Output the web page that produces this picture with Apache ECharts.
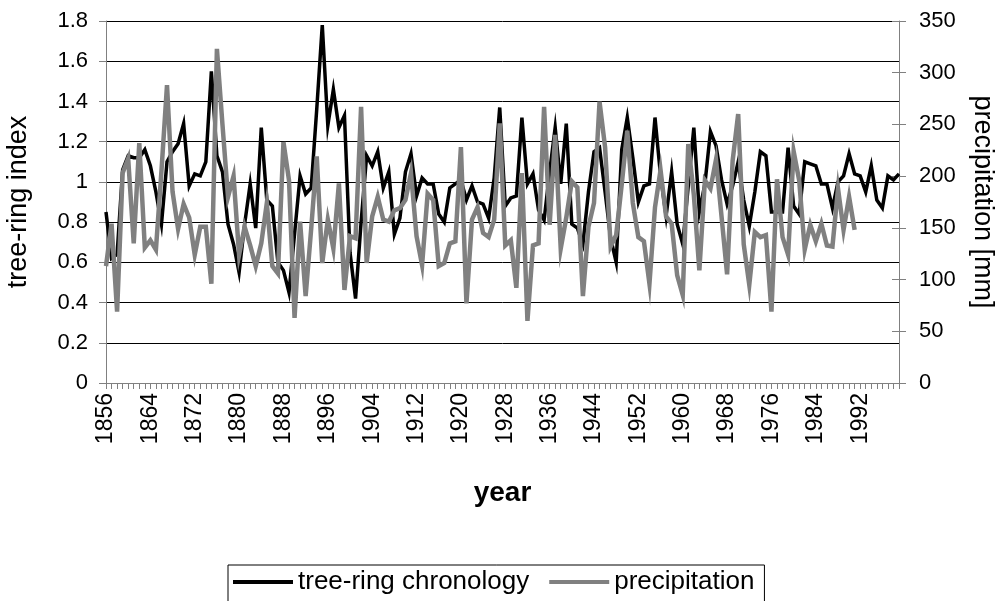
<!DOCTYPE html>
<html>
<head>
<meta charset="utf-8">
<script src="https://cdn.jsdelivr.net/npm/echarts@6/dist/echarts.min.js"></script>
<style>
html,body{margin:0;padding:0;background:#fff;}
#chart{width:998px;height:601px;}
</style>
</head>
<body>
<div id="chart"></div>
<script>
var firstYear = 1856;
var lastYear = 1999;
var years = [];
for (var y = firstYear; y <= lastYear; y++) years.push(String(y));

var treeRing = [
  0.85, 0.62, 0.64, 1.06, 1.13, 1.12, 1.12, 1.16, 1.08, 0.95,
  0.79, 1.10, 1.15, 1.19, 1.29, 0.98, 1.04, 1.03, 1.10, 1.55,
  1.13, 1.05, 0.79, 0.69, 0.55, 0.79, 0.99, 0.77, 1.27, 0.91,
  0.88, 0.60, 0.56, 0.45, 0.74, 1.03, 0.94, 0.97, 1.36, 1.78,
  1.28, 1.46, 1.27, 1.33, 0.65, 0.42, 0.80, 1.13, 1.08, 1.15,
  0.97, 1.05, 0.74, 0.82, 1.05, 1.14, 0.93, 1.02, 0.99, 0.99,
  0.84, 0.80, 0.97, 0.99, 1.01, 0.91, 0.98, 0.90, 0.89, 0.82,
  1.02, 1.37, 0.88, 0.92, 0.93, 1.32, 0.99, 1.04, 0.86, 0.81,
  1.05, 1.27, 0.99, 1.29, 0.79, 0.77, 0.69, 0.95, 1.15, 1.17,
  0.95, 0.72, 0.60, 1.16, 1.32, 1.12, 0.90, 0.98, 0.99, 1.32,
  1.03, 0.83, 1.05, 0.79, 0.69, 0.98, 1.27, 0.85, 0.99, 1.25,
  1.18, 1.01, 0.89, 0.98, 1.10, 0.91, 0.78, 0.95, 1.15, 1.13,
  0.85, 0.85, 0.85, 1.17, 0.88, 0.84, 1.10, 1.09, 1.08, 0.99,
  0.99, 0.87, 1.00, 1.03, 1.14, 1.04, 1.03, 0.95, 1.08, 0.91,
  0.87, 1.03, 1.01, 1.04
];

var precipitation = [
  113, 154, 69, 203, 217, 135, 232, 131, 138, 129,
  205, 288, 185, 149, 173, 160, 124, 151, 151, 96,
  323, 250, 180, 200, 124, 151, 133, 113, 135, 174,
  113, 106, 233, 196, 63, 156, 84, 149, 219, 116,
  158, 130, 193, 90, 142, 140, 267, 116, 161, 180,
  158, 156, 167, 169, 177, 203, 142, 114, 183, 177,
  113, 116, 135, 137, 228, 77, 158, 170, 145, 141,
  158, 251, 133, 138, 92, 203, 60, 133, 135, 267,
  153, 240, 130, 160, 195, 189, 84, 151, 174, 272,
  228, 132, 143, 192, 244, 174, 141, 137, 96, 170,
  206, 161, 154, 104, 85, 231, 182, 109, 196, 188,
  216, 161, 105, 215, 260, 134, 95, 146, 141, 143,
  69, 197, 141, 124, 224, 196, 129, 153, 137, 154,
  133, 132, 188, 148, 180, 148
];

var leftTicks = {min: 0, max: 1.8, interval: 0.2};
var rightTicks = {min: 0, max: 350, interval: 50};

var FONT = '"Liberation Sans", Arial, sans-serif';
var chart = echarts.init(document.getElementById('chart'), null, {renderer: 'canvas'});

chart.setOption({
  animation: false,
  backgroundColor: '#fff',
  textStyle: {fontFamily: FONT, color: '#000'},
  grid: {left: 106, right: 99, top: 21, bottom: 218, containLabel: false, outerBoundsMode: 'none'},
  legend: {
    left: 228, top: 565,
    icon: 'rect', itemWidth: 60, itemHeight: 4, itemGap: 20,
    borderColor: '#000', borderWidth: 1, borderRadius: 0,
    padding: [4, 10, 30, 5],
    backgroundColor: '#fff',
    textStyle: {fontFamily: FONT, fontSize: 26, color: '#000'},
    data: ['tree-ring chronology', 'precipitation']
  },
  xAxis: {
    type: 'category', data: years, boundaryGap: false,
    axisLine: {lineStyle: {color: '#808080', width: 1}},
    axisTick: {show: true, interval: 0, length: 6, lineStyle: {color: '#808080'}},
    axisLabel: {interval: 7, rotate: 90, fontSize: 23, color: '#000', fontFamily: FONT, margin: 10},
    splitLine: {show: false},
    name: 'year', nameLocation: 'middle', nameGap: 96,
    nameTextStyle: {fontWeight: 'bold', fontSize: 28, color: '#000', fontFamily: FONT}
  },
  yAxis: [
    {
      type: 'value', position: 'left',
      min: leftTicks.min, max: leftTicks.max, interval: leftTicks.interval,
      axisLine: {show: true, lineStyle: {color: '#808080'}},
      axisTick: {show: true, length: 7, lineStyle: {color: '#808080'}},
      splitLine: {show: true, lineStyle: {color: '#000', width: 1}},
      axisLabel: {fontSize: 22, color: '#000', fontFamily: FONT, margin: 18,
        formatter: function (v) { return String(+v.toFixed(1)); }},
      name: 'tree-ring index', nameLocation: 'middle', nameGap: 74, nameRotate: 90,
      nameTextStyle: {fontSize: 27, color: '#000', fontFamily: FONT}
    },
    {
      type: 'value', position: 'right',
      min: rightTicks.min, max: rightTicks.max, interval: rightTicks.interval,
      axisLine: {show: true, lineStyle: {color: '#808080'}},
      axisTick: {show: true, length: 7, lineStyle: {color: '#808080'}},
      splitLine: {show: false},
      axisLabel: {fontSize: 22, color: '#000', fontFamily: FONT, margin: 20},
      name: 'precipitation [mm]', nameLocation: 'middle', nameGap: 70, nameRotate: -90,
      nameTextStyle: {fontSize: 27, color: '#000', fontFamily: FONT}
    },
    {
      type: 'value', position: 'right',
      min: rightTicks.min, max: rightTicks.max, interval: rightTicks.interval,
      axisLine: {show: false},
      axisTick: {show: true, inside: true, length: 7, lineStyle: {color: '#808080'}},
      splitLine: {show: false},
      axisLabel: {show: false}
    }
  ],
  series: [
    {
      name: 'tree-ring chronology', type: 'line', data: treeRing,
      yAxisIndex: 0, symbol: 'none', color: '#000',
      lineStyle: {width: 3.5, color: '#000', join: 'miter'}, z: 2
    },
    {
      name: 'precipitation', type: 'line', data: precipitation,
      yAxisIndex: 1, symbol: 'none', color: '#808080',
      lineStyle: {width: 4.5, color: '#808080', join: 'miter'}, z: 3
    }
  ]
});
</script>
</body>
</html>
